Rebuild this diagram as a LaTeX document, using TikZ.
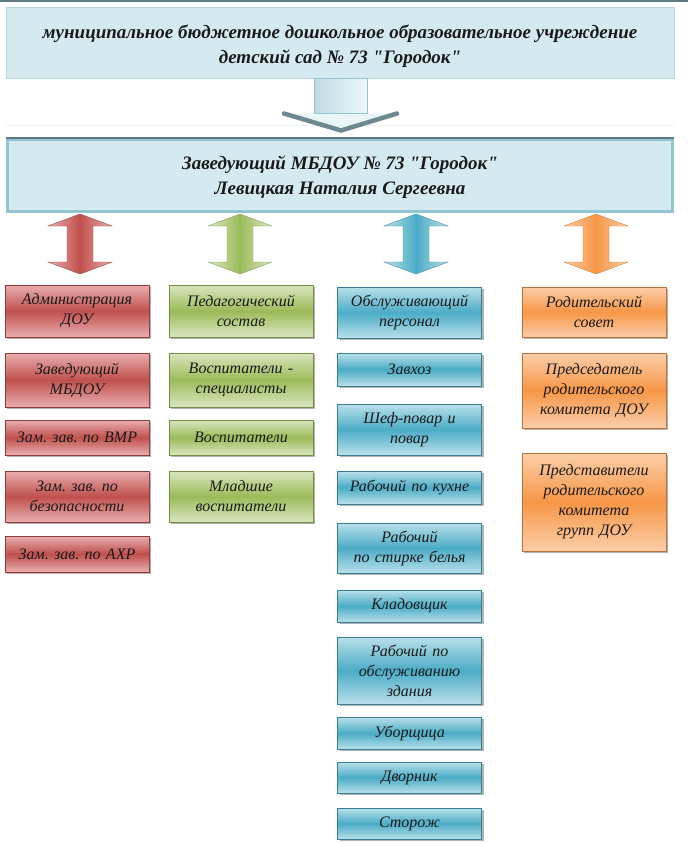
\documentclass[tikz,border=0pt]{standalone}
\usepackage{fontspec}
\setmainfont{Liberation Serif}[Ligatures=TeXOff]
\usetikzlibrary{shadows}
\definecolor{redD}{HTML}{C0504D}\definecolor{redL}{HTML}{E8AFAE}
\definecolor{grnD}{HTML}{9BBB59}\definecolor{grnL}{HTML}{D9E6BF}
\definecolor{bluD}{HTML}{4BACC6}\definecolor{bluL}{HTML}{B9E0EA}
\definecolor{orgD}{HTML}{F79646}\definecolor{orgL}{HTML}{FBCFAA}
\definecolor{hdrF}{HTML}{D4EAF0}\definecolor{hdrB}{HTML}{93C4D2}
\definecolor{hdrT}{HTML}{5E7B83}\definecolor{ink}{HTML}{1A1A1A}
\frenchspacing
\begin{document}
\begin{tikzpicture}[x=1pt,y=-1pt,
    box/.style={draw=#1D!75!black,line width=.5pt,top color=#1L,bottom color=#1L,middle color=#1D,
      drop shadow={shadow xshift=2pt,shadow yshift=-2pt,opacity=.6},
      minimum width=144,text width=138,inner sep=0pt,align=center,text=ink,
      font=\fontsize{16}{20}\selectfont\itshape},
    hdr/.style={fill=hdrF,minimum width=668,inner sep=0pt,align=center,text=ink,
      font=\fontsize{19}{25}\selectfont\bfseries\itshape}]
  \useasboundingbox (0,0) rectangle (698,849);
  \draw[hdrT,line width=2pt] (0,1) -- (688,1);
  % headers
  \path (340,42.5) node[hdr,minimum height=71,draw=hdrB!70,line width=1pt](inst)
    {\rule{0pt}{21pt}муниципальное бюджетное дошкольное образовательное учреждение\\
     детский сад № 73 "Городок"};
  \draw[hdrF!60,line width=1pt] (6,125) -- (674,125);
  \path (340,175.5) node[hdr,minimum height=72,minimum width=665,draw=hdrB,line width=3pt](head)
    {\rule{0pt}{18pt}Заведующий МБДОУ № 73 "Городок"\\Левицкая Наталия Сергеевна};
  \draw[hdrT,line width=1.5pt] (head.north west) -- (head.north east);
  % arrow down
  \fill[hdrF!50] (inst.south) ++(-56,35) -- ++(57,17) -- ++(56,-17) -- cycle;
  \path[left color=hdrB!60,right color=hdrF!40,draw=hdrB] (inst.south) ++(-26,0) rectangle ++(53,35);
  \draw[hdrT!90,line width=4.5pt,line cap=round] (inst.south) ++(-56,35) -- ++(57,17) -- ++(56,-17);
  % red
  \path (77,311) node[box=red,minimum height=52](adm){Администрация\\ДОУ};
  \path (77,380) node[box=red,minimum height=54](zav){Заведующий\\МБДОУ};
  \path (77,437.5) node[box=red,minimum height=35](vmr){Зам. зав. по ВМР};
  \path (77,496.5) node[box=red,minimum height=51](bez){Зам. зав. по\\безопасности};
  \path (77,554) node[box=red,minimum height=36](ahr){Зам. зав. по АХР};
  % green
  \path (241,311) node[box=grn,minimum height=52](ped){Педагогический\\состав};
  \path (241,380) node[box=grn,minimum height=54](vsp){Воспитатели -\\специалисты};
  \path (241,437.5) node[box=grn,minimum height=35](vos){Воспитатели};
  \path (241,496.5) node[box=grn,minimum height=51](mla){Младшие\\воспитатели};
  % blue
  \path (409.5,312.5) node[box=blu,minimum height=51](obs){Обслуживающий\\персонал};
  \path (409.5,369.5) node[box=blu,minimum height=33](zavh){Завхоз};
  \path (409.5,429.5) node[box=blu,minimum height=51](shef){Шеф-повар и\\повар};
  \path (409.5,487.5) node[box=blu,minimum height=33](kuh){Рабочий по кухне};
  \path (409.5,548) node[box=blu,minimum height=50](stir){Рабочий\\по стирке белья};
  \path (409.5,606) node[box=blu,minimum height=32](klad){Кладовщик};
  \path (409.5,670.5) node[box=blu,minimum height=67](zdan){Рабочий по\\обслуживанию\\здания};
  \path (409.5,733) node[box=blu,minimum height=32](ubor){Уборщица};
  \path (409.5,777.5) node[box=blu,minimum height=31](dvor){Дворник};
  \path (409.5,823.5) node[box=blu,minimum height=31](stor){Сторож};
  % orange
  \path (594,312) node[box=org,minimum height=50](rod){Родительский\\совет};
  \path (594,390.5) node[box=org,minimum height=75](pred){Председатель\\родительского\\комитета ДОУ};
  \path (594,502) node[box=org,minimum height=98](pres){Представители\\родительского\\комитета\\групп ДОУ};
  % double arrows
  \foreach \x/\c in {80/red,240/grn,416/blu,596/org}
    \path[left color=\c L,right color=\c L,middle color=\c D,draw=\c D!85!black,line width=.4pt]
      (head.south -| \x,0) ++(0,1) -- ++(32,12) -- ++(-19,0) -- ++(0,36) -- ++(19,0) -- ++(-32,12)
      -- ++(-32,-12) -- ++(19,0) -- ++(0,-36) -- ++(-19,0) -- cycle;
\end{tikzpicture}
\end{document}
